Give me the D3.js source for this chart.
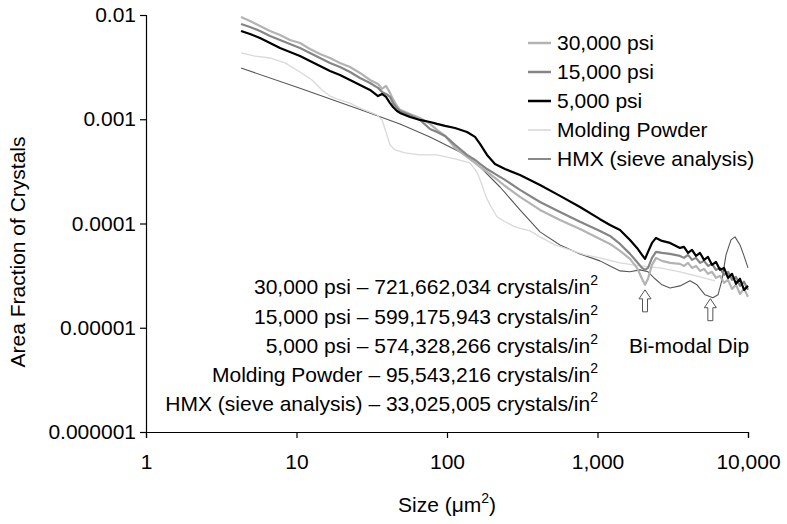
<!DOCTYPE html>
<html><head><meta charset="utf-8">
<script src="https://cdn.jsdelivr.net/npm/d3@7/dist/d3.min.js"></script>
<style>
body{margin:0;background:#fff}
svg{display:block}
text{font-family:"Liberation Sans",Arial,Helvetica,sans-serif;fill:#000}
</style>
</head><body>
<svg id="chart" width="787" height="524"></svg>
<script>
// ---------- data ----------
const xTickValues = [1, 10, 100, 1000, 10000];
const xTickLabels = ["1", "10", "100", "1,000", "10,000"];
const yTickValues = [0.01, 0.001, 0.0001, 0.00001, 0.000001];
const yTickLabels = ["0.01", "0.001", "0.0001", "0.00001", "0.000001"];

const seriesNames = ["30,000 psi", "15,000 psi", "5,000 psi", "Molding Powder", "HMX (sieve analysis)"];

// shared size grid for the three pressed samples (µm²)
const pressedSizes = [4.28, 4.91, 5.72, 6.67, 7.77, 9.05, 10.55, 12.29, 14.33, 16.70, 19.45, 22.68, 26.42, 30.79,
  34.80, 37.00, 39.33, 41.82, 43.78, 46.54, 48.72, 56.78, 66.16, 77.10, 85.82, 96.99, 113.0, 135.8, 153.5, 165.7,
  184.5, 208.4, 242.9, 305.5, 415.0, 563.5, 765.1, 1039, 1211, 1411, 1644, 1830, 1976, 2069, 2166, 2302, 2447,
  2683, 3032, 3533, 3756, 3993, 4245, 4512, 4799, 5101, 5423, 5765, 6130, 6516, 6926, 7365, 7829, 8324, 8850,
  9406, 10000];

const values30k = [0.00957, 0.00876, 0.00785, 0.00703, 0.00643, 0.00576, 0.00539, 0.00472, 0.00423, 0.00387,
  0.00347, 0.00317, 0.00278, 0.00238, 0.00218, 0.00196, 0.00209, 0.00179, 0.00156, 0.00134, 0.00123, 0.00112,
  0.00103, 0.000902, 0.000790, 0.000692, 0.000531, 0.000435, 0.000381, 0.000349, 0.000312, 0.000274, 0.000229,
  0.000180, 0.000135, 0.000108, 0.0000887, 0.0000711, 0.0000637, 0.0000546, 0.0000458, 0.0000375, 0.0000295,
  0.0000258, 0.0000295, 0.0000401, 0.0000468, 0.0000438, 0.0000419,
  0.0000410, 0.0000392, 0.0000419, 0.0000375, 0.0000392, 0.0000351, 0.0000367, 0.0000329, 0.0000344, 0.0000301,
  0.0000315, 0.0000270, 0.0000288, 0.0000236, 0.0000258, 0.0000211, 0.0000236, 0.0000198];

const values15k = [0.00820, 0.00768, 0.00703, 0.00629, 0.00576, 0.00527, 0.00483, 0.00433, 0.00387, 0.00347,
  0.00317, 0.00284, 0.00249, 0.00223, 0.00200, 0.00183, 0.00175, 0.00164, 0.00143, 0.00128, 0.00120, 0.00110,
  0.000985, 0.000807, 0.000755, 0.000692, 0.000567, 0.000455, 0.000407, 0.000373, 0.000333, 0.000299, 0.000262,
  0.000210, 0.000161, 0.000129, 0.000104, 0.0000849, 0.0000760, 0.0000637, 0.0000511, 0.0000428, 0.0000375,
  0.0000359, 0.0000375, 0.0000468, 0.0000534, 0.0000522, 0.0000511,
  0.0000489, 0.0000468, 0.0000500, 0.0000448, 0.0000468, 0.0000419, 0.0000438, 0.0000392, 0.0000410, 0.0000359,
  0.0000375, 0.0000322, 0.0000344, 0.0000288, 0.0000308, 0.0000252, 0.0000276, 0.0000231];

const values5k = [0.00703, 0.00657, 0.00602, 0.00539, 0.00483, 0.00442, 0.00404, 0.00362, 0.00324, 0.00290,
  0.00266, 0.00238, 0.00213, 0.00191, 0.00167, 0.00175, 0.00164, 0.00143, 0.00131, 0.00120, 0.00115, 0.00105,
  0.000985, 0.000942, 0.000902, 0.000863, 0.000825, 0.000755, 0.000677, 0.000580, 0.000455, 0.000373, 0.000333,
  0.000292, 0.000234, 0.000184, 0.000144, 0.000110, 0.0000969, 0.0000868, 0.0000696, 0.0000583, 0.0000500,
  0.0000458, 0.0000534, 0.0000651, 0.0000727, 0.0000681, 0.0000651,
  0.0000583, 0.0000596, 0.0000522, 0.0000558, 0.0000489, 0.0000522, 0.0000448, 0.0000478, 0.0000401, 0.0000428,
  0.0000359, 0.0000375, 0.0000301, 0.0000329, 0.0000264, 0.0000295, 0.0000231, 0.0000252];

const moldingSizes = [4.28, 5.30, 6.67, 8.39, 10.55, 12.68, 14.77, 16.70, 19.45, 22.68, 26.42, 30.79, 34.27, 37.00,
  39.33, 41.82, 45.13, 52.60, 66.16, 85.82, 113.0, 142.2, 158.2, 170.9, 181.6, 193.1, 214.8, 242.9, 283.0, 356.0,
  415.0, 521.9, 656.7, 826.0, 1039, 1411, 1916, 2602, 3533, 4799, 6036];
const moldingValues = [0.00433, 0.00404, 0.00387, 0.00347, 0.00284, 0.00238, 0.00191, 0.00167, 0.00153, 0.00143,
  0.00128, 0.00117, 0.00110, 0.000985, 0.000755, 0.000567, 0.000508, 0.000475, 0.000455, 0.000455, 0.000417,
  0.000381, 0.000312, 0.000234, 0.000180, 0.000151, 0.000116, 0.000104, 0.0000927, 0.0000849, 0.0000744,
  0.0000623, 0.0000558, 0.0000500, 0.0000468, 0.0000419, 0.0000392, 0.0000375, 0.0000344, 0.0000308, 0.0000282];

const hmxSizes = [4.28, 10.55, 26.42, 48.72, 77.10, 122.0, 165.7, 225.0, 305.5, 415.0, 563.5, 765.1, 1039, 1211,
  1411, 1644, 1916, 2166, 2411, 2683, 3032, 3533, 4118, 4583, 5179, 5853, 6318, 6718, 7141, 7709, 8199, 8850,
  9406, 10000];
const hmxValues = [0.00310, 0.00198, 0.00124, 0.000902, 0.000677, 0.000486, 0.000349, 0.000224, 0.000135,
  0.0000831, 0.0000623, 0.0000511, 0.0000438, 0.0000392, 0.0000351, 0.0000344, 0.0000359, 0.0000344, 0.0000295,
  0.0000258, 0.0000241, 0.0000252, 0.0000282, 0.0000258, 0.0000207, 0.0000194, 0.0000207, 0.0000288, 0.0000500,
  0.0000696, 0.0000744, 0.0000623, 0.0000489, 0.0000375];

const crystalCounts = ["721,662,034", "599,175,943", "574,328,266", "95,543,216", "33,025,005"];
const dipSizes = [2069, 5620];
const dipTipValues = [0.0000231, 0.0000190];

// ---------- styles ----------
const seriesColors = ["#b3b3b3", "#858585", "#000000", "#d9d9d9", "#575757"];
const seriesWidths = [2.2, 2.2, 2.2, 1.3, 1.1];

// ---------- chart ----------
const svg = d3.select("#chart");
const W = 787, H = 524;
const m = {left: 146, right: 39, top: 15, bottom: 92};

const x = d3.scaleLog().domain([1, 10000]).range([m.left, W - m.right]);
const y = d3.scaleLog().domain([0.000001, 0.01]).range([H - m.bottom, m.top]);

const FS = 21;

// axes
const xAxis = d3.axisBottom(x).tickValues(xTickValues).tickFormat((d, i) => xTickLabels[i]).tickSizeOuter(0).tickSize(6).tickPadding(16);
const yAxis = d3.axisLeft(y).tickValues(yTickValues).tickFormat((d, i) => yTickLabels[i]).tickSizeOuter(0).tickSize(6).tickPadding(4);

const gx = svg.append("g").attr("transform", `translate(0,${y(0.000001)})`).call(xAxis);
const gy = svg.append("g").attr("transform", `translate(${x(1)},0)`).call(yAxis);
[gx, gy].forEach(g => {
  g.selectAll("path.domain").attr("stroke", "#000").attr("stroke-width", 1.2);
  g.selectAll(".tick line").attr("stroke", "#000").attr("stroke-width", 1.2);
  g.selectAll(".tick text").attr("font-size", FS).attr("font-family", "Liberation Sans, Arial, sans-serif").attr("fill", "#000");
});

// series
const series = [
  {sizes: pressedSizes, values: values30k},
  {sizes: pressedSizes, values: values15k},
  {sizes: pressedSizes, values: values5k},
  {sizes: moldingSizes, values: moldingValues},
  {sizes: hmxSizes, values: hmxValues}
];
const line = d3.line().x(d => x(d[0])).y(d => y(d[1]));
const drawOrder = [4, 3, 0, 1, 2];
drawOrder.forEach(i => {
  const s = series[i];
  const pts = s.sizes.map((v, k) => [v, s.values[k]]);
  svg.append("path").datum(pts)
    .attr("d", line)
    .attr("fill", "none")
    .attr("stroke", seriesColors[i])
    .attr("stroke-width", seriesWidths[i])
    .attr("stroke-linejoin", "round");
});

// legend
const legend = svg.append("g");
seriesNames.forEach((name, i) => {
  const cy = 43 + i * 29;
  legend.append("line").attr("x1", 528).attr("x2", 551).attr("y1", cy).attr("y2", cy)
    .attr("stroke", seriesColors[i]).attr("stroke-width", seriesWidths[i] + 0.3);
  legend.append("text").attr("x", 557).attr("y", cy).attr("dy", "0.35em")
    .attr("font-size", FS).text(name);
});

// crystal counts annotation
seriesNames.forEach((name, i) => {
  const cy = 287 + i * 29.2;
  const t = svg.append("text").attr("x", 598).attr("y", cy).attr("dy", "0.35em")
    .attr("text-anchor", "end").attr("font-size", FS);
  t.append("tspan").text(`${name} \u2013 ${crystalCounts[i]} crystals/in`);
  t.append("tspan").attr("font-size", 14).attr("dy", -9).text("2");
});

// bi-modal dip arrows
dipSizes.forEach((s, i) => {
  const tx = x(s), ty = y(dipTipValues[i]);
  const p = d3.path();
  p.moveTo(tx, ty);
  p.lineTo(tx + 6, ty + 9);
  p.lineTo(tx + 2.5, ty + 9);
  p.lineTo(tx + 2.5, ty + 22);
  p.lineTo(tx - 2.5, ty + 22);
  p.lineTo(tx - 2.5, ty + 9);
  p.lineTo(tx - 6, ty + 9);
  p.closePath();
  svg.append("path").attr("d", p.toString()).attr("fill", "#fff").attr("stroke", "#555").attr("stroke-width", 1);
});
svg.append("text").attr("x", 689).attr("y", 346).attr("dy", "0.35em").attr("text-anchor", "middle")
  .attr("font-size", FS).text("Bi-modal Dip");

// axis titles
svg.append("text").attr("transform", "translate(25,252) rotate(-90)").attr("text-anchor", "middle")
  .attr("font-size", FS).text("Area Fraction of Crystals");
const xt = svg.append("text").attr("x", 447).attr("y", 512).attr("text-anchor", "middle").attr("font-size", FS);
xt.append("tspan").text("Size (\u03bcm");
xt.append("tspan").attr("font-size", 14).attr("dy", -9).text("2");
xt.append("tspan").attr("dy", 9).text(")");
</script>
</body></html>
